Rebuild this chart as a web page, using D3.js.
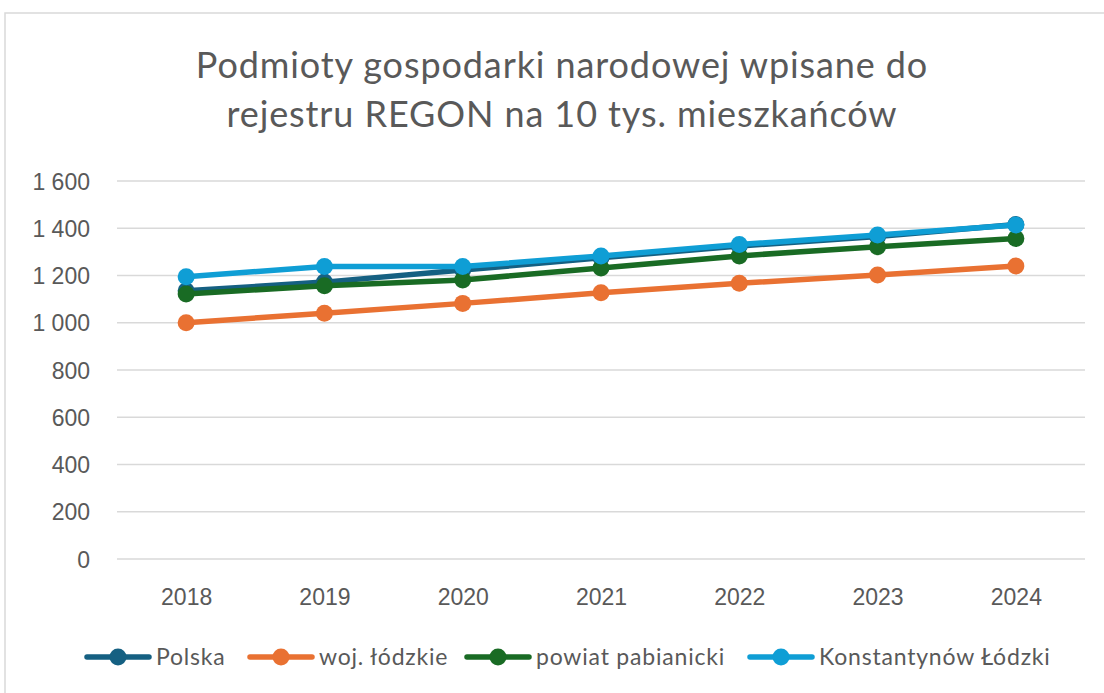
<!DOCTYPE html>
<html><head><meta charset="utf-8">
<script src="https://cdn.jsdelivr.net/npm/d3@7"></script>
<style>body{margin:0;background:#fff}svg{display:block}</style>
</head><body>
<svg id="c" width="1104" height="693"></svg>
<script>
const years = ["2018","2019","2020","2021","2022","2023","2024"];
const polska = [1135,1172,1223,1275,1325,1365,1416];
const wojLodzkie = [1000,1040,1082,1127,1167,1202,1240];
const powiatPabianicki = [1122,1157,1181,1232,1283,1322,1357];
const konstantynow = [1195,1238,1238,1283,1331,1371,1414];
const seriesNames = ["Polska","woj. łódzkie","powiat pabianicki","Konstantynów Łódzki"];
const seriesColors = ["#156082","#E97132","#196B24","#0F9ED5"];
const yTicks = [0,200,400,600,800,1000,1200,1400,1600];
const titleLines = ["Podmioty gospodarki narodowej wpisane do","rejestru REGON na 10 tys. mieszkańców"];

const series = [polska, wojLodzkie, powiatPabianicki, konstantynow];
const svg = d3.select("#c");
const titleFont = "Lato, 'Open Sans', sans-serif";
const tickFont = "'Liberation Sans', Arial, sans-serif";
const textCol = "#595959";

svg.append("rect").attr("x",5).attr("y",13).attr("width",1120).attr("height",700)
  .attr("fill","#fff").attr("stroke","#d9d9d9").attr("stroke-width",1.5);

const tg = svg.append("g").attr("font-family",titleFont).attr("fill",textCol).attr("font-size",36)
  .attr("letter-spacing","0.9px").attr("text-anchor","middle");
titleLines.forEach((t,i)=> tg.append("text").attr("x",562).attr("y",78+i*49).text(t));

const x = d3.scalePoint().domain(years).range([117,1085]).padding(0.5);
const y = d3.scaleLinear().domain([0,1600]).range([559,181]);

const grid = svg.append("g");
yTicks.forEach(v=> grid.append("line").attr("x1",117).attr("x2",1085).attr("y1",y(v)).attr("y2",y(v))
  .attr("stroke","#d9d9d9").attr("stroke-width",1.5));

const fmt = v => d3.format(",")(v).replace(/,/g," ");
const yAxis = d3.axisLeft(y).tickValues(yTicks).tickSize(0).tickPadding(0).tickFormat(fmt);
const ya = svg.append("g").attr("transform","translate(90,0)").call(yAxis);
ya.select(".domain").remove();
ya.selectAll("text").attr("font-family",tickFont).attr("font-size",23).attr("fill",textCol).attr("dy","0.35em");

const xAxis = d3.axisBottom(x).tickSize(0).tickPadding(0);
const xa = svg.append("g").attr("transform","translate(0,605)").call(xAxis);
xa.select(".domain").remove();
xa.selectAll("text").attr("font-family",tickFont).attr("font-size",23).attr("fill",textCol).attr("dy","0");

const line = d3.line().x((d,i)=>x(years[i])).y(d=>y(d));
series.forEach((s,k)=>{
  const g = svg.append("g");
  g.append("path").datum(s).attr("d",line).attr("fill","none").attr("stroke",seriesColors[k])
    .attr("stroke-width",5.5).attr("stroke-linejoin","round").attr("stroke-linecap","round");
  g.selectAll("circle").data(s).join("circle").attr("cx",(d,i)=>x(years[i])).attr("cy",d=>y(d))
    .attr("r",8.5).attr("fill",seriesColors[k]);
});

const legX = [85,248,465,748];
const lg = svg.append("g");
seriesNames.forEach((n,k)=>{
  const g = lg.append("g").attr("transform",`translate(${legX[k]},657)`);
  g.append("line").attr("x1",2).attr("x2",64).attr("y1",0).attr("y2",0).attr("stroke",seriesColors[k])
    .attr("stroke-width",5.5).attr("stroke-linecap","round");
  g.append("circle").attr("cx",33).attr("cy",0).attr("r",8.5).attr("fill",seriesColors[k]);
  g.append("text").attr("x",71).attr("y",7.5).attr("font-family",titleFont).attr("letter-spacing","0.8px")
    .attr("font-size",23).attr("fill",textCol).text(n);
});
</script>
</body></html>
